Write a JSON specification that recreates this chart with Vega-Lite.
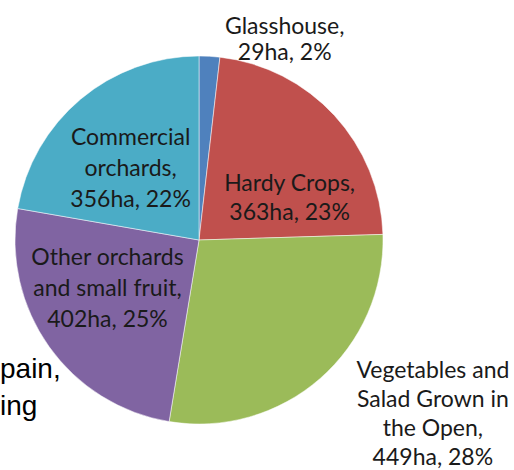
{
  "$schema": "https://vega.github.io/schema/vega-lite/v6.json",
  "width": 398,
  "height": 460,
  "autosize": {"type": "none"},
  "padding": {"left": 0, "top": 10, "right": 116, "bottom": 0},
  "background": "white",
  "config": {"view": {"stroke": null}},
  "data": {
    "values": [
      {"idx": 1, "category": "Glasshouse", "ha": 29, "label": "Glasshouse,\n29ha, 2%"},
      {"idx": 2, "category": "Hardy Crops", "ha": 363, "label": "Hardy Crops,\n363ha, 23%"},
      {"idx": 3, "category": "Vegetables and Salad Grown in the Open", "ha": 449, "label": "Vegetables and\nSalad Grown in\nthe Open,\n449ha, 28%"},
      {"idx": 4, "category": "Other orchards and small fruit", "ha": 402, "label": "Other orchards\nand small fruit,\n402ha, 25%"},
      {"idx": 5, "category": "Commercial orchards", "ha": 356, "label": "Commercial\norchards,\n356ha, 22%"}
    ]
  },
  "encoding": {
    "theta": {"field": "ha", "type": "quantitative", "stack": true},
    "order": {"field": "idx", "type": "quantitative"}
  },
  "layer": [
    {
      "data": {"values": [{"t": "pain,\ning"}]},
      "mark": {"type": "text", "align": "left", "baseline": "alphabetic", "font": "Liberation Sans", "fontSize": 28, "lineBreak": "\n", "lineHeight": 37, "fill": "#000000", "x": 0, "y": 368},
      "encoding": {"text": {"field": "t"}, "theta": null, "order": null}
    },
    {
      "mark": {"type": "arc", "outerRadius": 184, "stroke": "white", "strokeWidth": 0.5},
      "encoding": {
        "color": {
          "field": "category",
          "type": "nominal",
          "scale": {
            "domain": ["Glasshouse", "Hardy Crops", "Vegetables and Salad Grown in the Open", "Other orchards and small fruit", "Commercial orchards"],
            "range": ["#4F81BD", "#C0504D", "#9BBB59", "#8064A2", "#4BACC6"]
          },
          "legend": null
        }
      }
    },
    {
      "mark": {"type": "text", "radius": 100, "dx": 80, "dy": -113, "font": "Lato", "fontSize": 23, "lineBreak": "\n", "lineHeight": 26, "fill": "#1a1a1a", "align": "center", "baseline": "middle"},
      "encoding": {"text": {"condition": {"test": "datum.idx === 1", "field": "label"}, "value": ""}}
    },
    {
      "mark": {"type": "text", "radius": 100, "dx": 17, "dy": 12, "font": "Lato", "fontSize": 23, "lineBreak": "\n", "lineHeight": 29, "fill": "#1a1a1a", "align": "center", "baseline": "middle"},
      "encoding": {"text": {"condition": {"test": "datum.idx === 2", "field": "label"}, "value": ""}}
    },
    {
      "mark": {"type": "text", "radius": 100, "dx": 168, "dy": 56, "font": "Lato", "fontSize": 23, "lineBreak": "\n", "lineHeight": 29, "fill": "#1a1a1a", "align": "center", "baseline": "middle"},
      "encoding": {"text": {"condition": {"test": "datum.idx === 3", "field": "label"}, "value": ""}}
    },
    {
      "mark": {"type": "text", "radius": 100, "dx": -10, "dy": -40, "font": "Lato", "fontSize": 23, "lineBreak": "\n", "lineHeight": 31, "fill": "#1a1a1a", "align": "center", "baseline": "middle"},
      "encoding": {"text": {"condition": {"test": "datum.idx === 4", "field": "label"}, "value": ""}}
    },
    {
      "mark": {"type": "text", "radius": 100, "dx": -4, "dy": -25, "font": "Lato", "fontSize": 23, "lineBreak": "\n", "lineHeight": 31, "fill": "#1a1a1a", "align": "center", "baseline": "middle"},
      "encoding": {"text": {"condition": {"test": "datum.idx === 5", "field": "label"}, "value": ""}}
    }
  ]
}
